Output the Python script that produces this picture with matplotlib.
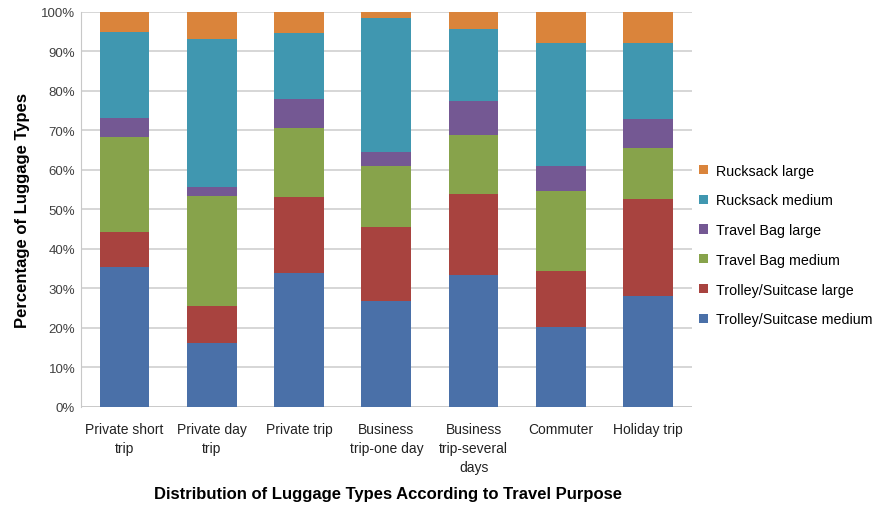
import numpy as np
import matplotlib.pyplot as plt

# =========================
# DATA
# =========================
categories = ["Private short\ntrip", "Private day\ntrip", "Private trip",
              "Business\ntrip-one day", "Business\ntrip-several\ndays",
              "Commuter", "Holiday trip"]

series_names = ["Trolley/Suitcase medium", "Trolley/Suitcase large",
                "Travel Bag medium", "Travel Bag large",
                "Rucksack medium", "Rucksack large"]

trolley_medium = [35.4, 16.2, 33.8, 26.9, 33.4, 20.3, 28.2]
trolley_large = [8.9, 9.3, 19.4, 18.7, 20.4, 14.1, 24.3]
travel_medium = [24.0, 27.9, 17.4, 15.4, 15.0, 20.2, 13.0]
travel_large = [4.9, 2.3, 7.3, 3.4, 8.6, 6.4, 7.3]
rucksack_medium = [21.8, 37.4, 16.6, 33.9, 18.3, 31.2, 19.3]
rucksack_large = [5.0, 6.9, 5.5, 1.7, 4.3, 7.8, 7.9]

colors = ["#4a70a8", "#a8433f", "#87a34b", "#745893", "#4097b0", "#da843b"]

# =========================
# PLOT
# =========================
plt.rcParams["font.family"] = ["Liberation Sans", "DejaVu Sans"]

fig = plt.figure(figsize=(8.78, 5.10), dpi=100)
ax = fig.add_axes([0.092, 0.2, 0.696, 0.775])

x = np.arange(len(categories))
bottom = np.zeros(len(categories))
all_series = [trolley_medium, trolley_large, travel_medium, travel_large,
              rucksack_medium, rucksack_large]
handles = []
for name, vals, c in zip(series_names, all_series, colors):
    b = ax.bar(x, vals, 0.57, bottom=bottom, color=c, label=name, zorder=3)
    bottom += np.array(vals)
    handles.append(b)

ax.set_xlim(-0.5, len(categories) - 0.5)
ax.set_ylim(0, 100)
ax.set_yticks(np.arange(0, 101, 10))
ax.set_yticklabels([f"{v}%" for v in range(0, 101, 10)], fontsize=9.5, color="#404040")
ax.set_xticks(x)
ax.set_xticklabels(categories, fontsize=10, color="#222222", linespacing=1.45)
ax.tick_params(axis="x", length=0, pad=11)
ax.tick_params(axis="y", length=0, pad=4)

ax.yaxis.grid(True, color="#d0d0d0", linewidth=1.2, zorder=0)
for s in ["top", "right", "bottom"]:
    ax.spines[s].set_visible(False)
ax.spines["left"].set_color("#c8c8c8")
ax.axhline(0, color="#c8c8c8", linewidth=1.2, zorder=2)

ax.set_ylabel("Percentage of Luggage Types", fontsize=12, fontweight="bold", labelpad=8)
fig.text(0.442, 0.03, "Distribution of Luggage Types According to Travel Purpose",
         fontsize=12, fontweight="bold", ha="center", va="center")

leg = ax.legend(handles[::-1], series_names[::-1], loc="center left",
                bbox_to_anchor=(1.0, 0.41), frameon=False, fontsize=10.3,
                handlelength=0.6, handleheight=0.6, handletextpad=0.6,
                labelspacing=1.1, borderaxespad=0.3, borderpad=0.2)

plt.savefig("out.png", dpi=100)
